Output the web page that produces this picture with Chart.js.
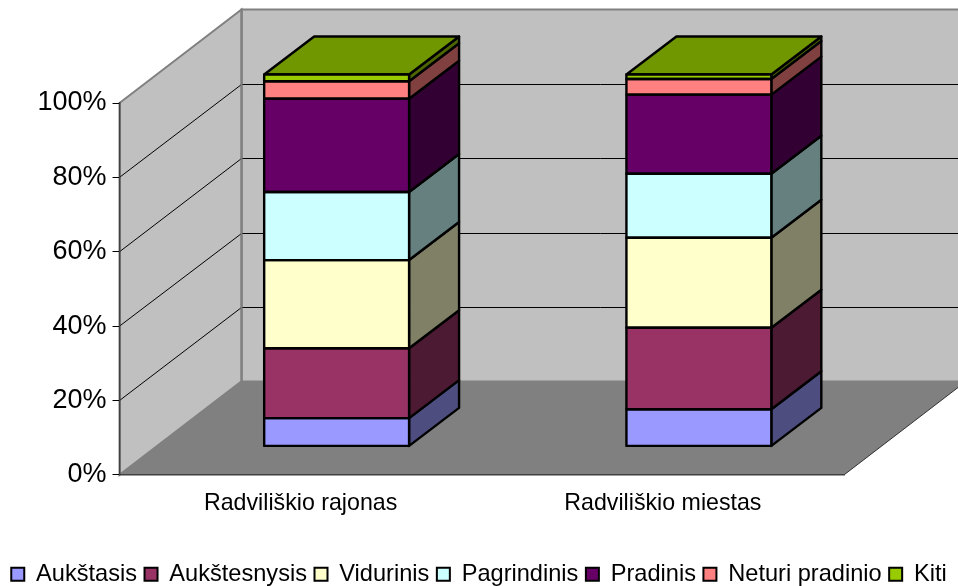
<!DOCTYPE html>
<html><head><meta charset="utf-8">
<script src="https://cdn.jsdelivr.net/npm/chart.js@4/dist/chart.umd.js"></script>
<style>html,body{margin:0;padding:0;background:#fff}canvas{display:block}</style>
</head><body><canvas id="c" width="958" height="586"></canvas>
<script>
const categories = ['Radviliškio rajonas', 'Radviliškio miestas'];
const seriesNames = ['Aukštasis', 'Aukštesnysis', 'Vidurinis', 'Pagrindinis', 'Pradinis', 'Neturi pradinio', 'Kiti'];
const aukstasis = [7.6, 10];
const aukstesnysis = [18.8, 21.9];
const vidurinis = [23.7, 24.2];
const pagrindinis = [18.3, 17.2];
const pradinis = [25.1, 21.3];
const neturi = [4.7, 4.2];
const kiti = [1.8, 1.2];
const seriesValues = [aukstasis, aukstesnysis, vidurinis, pagrindinis, pradinis, neturi, kiti];
const frontColors = ['#9999FF', '#993366', '#FFFFCC', '#CCFFFF', '#660066', '#FF8080', '#99CC00'];
const sideColors = ['#4D4D80', '#4D1A33', '#808066', '#668080', '#330033', '#804040', '#4D6600'];
const topColor = '#709600';
const yTicks = [0, 20, 40, 60, 80, 100];

const WALL_DX = 122, WALL_DY = -93.5;
const BAR_SHIFT_X = 36, BAR_SHIFT_Y = -28.5;
const BAR_DX = 50, BAR_DY = -38;
const EDGE = 2.4;

function poly(ctx, pts, fill, stroke, lw) {
  ctx.beginPath();
  pts.forEach((p, i) => i ? ctx.lineTo(p[0], p[1]) : ctx.moveTo(p[0], p[1]));
  ctx.closePath();
  if (fill) { ctx.fillStyle = fill; ctx.fill(); }
  if (stroke) { ctx.strokeStyle = stroke; ctx.lineWidth = lw; ctx.stroke(); }
}

const box3d = {
  id: 'box3d',
  beforeDraw(chart) {
    const {ctx, chartArea: a, scales: {y}} = chart;
    const W = chart.width + 40;
    ctx.save();
    poly(ctx, [[a.left + WALL_DX, a.top + WALL_DY], [a.right + WALL_DX, a.top + WALL_DY], [a.right + WALL_DX, a.bottom + WALL_DY], [a.left + WALL_DX, a.bottom + WALL_DY]], '#C0C0C0', '#808080', 2);
    poly(ctx, [[a.left, a.top], [a.left + WALL_DX, a.top + WALL_DY], [a.left + WALL_DX, a.bottom + WALL_DY], [a.left, a.bottom]], '#C0C0C0', '#808080', 2);
    poly(ctx, [[a.left, a.bottom], [a.right, a.bottom], [a.right + WALL_DX, a.bottom + WALL_DY], [a.left + WALL_DX, a.bottom + WALL_DY]], '#808080', null);
    ctx.beginPath(); ctx.moveTo(a.right, a.bottom); ctx.lineTo(a.right + WALL_DX, a.bottom + WALL_DY);
    ctx.strokeStyle = '#333'; ctx.lineWidth = 1; ctx.stroke();
    ctx.strokeStyle = '#000'; ctx.lineWidth = 1;
    yTicks.slice(1, -1).forEach(v => {
      const py = y.getPixelForValue(v);
      const by = Math.round(py + WALL_DY) + 0.5;
      ctx.beginPath(); ctx.moveTo(a.left, py); ctx.lineTo(a.left + WALL_DX, by); ctx.lineTo(W, by); ctx.stroke();
    });
    ctx.strokeStyle = '#808080'; ctx.lineWidth = 2;
    ctx.beginPath(); ctx.moveTo(a.left + WALL_DX, a.top + WALL_DY); ctx.lineTo(a.left + WALL_DX, a.bottom + WALL_DY); ctx.stroke();
    ctx.restore();
  },
  beforeDatasetsDraw(chart) {
    const {ctx} = chart;
    ctx.save();
    ctx.translate(BAR_SHIFT_X, BAR_SHIFT_Y);
    ctx.lineJoin = 'round';
    chart.data.datasets.forEach((ds, i) => {
      chart.getDatasetMeta(i).data.forEach(el => {
        const r = el.getProps(['x', 'y', 'base', 'width'], true);
        const xr = r.x + r.width / 2, xl = r.x - r.width / 2;
        poly(ctx, [[xr, r.y], [xr + BAR_DX, r.y + BAR_DY], [xr + BAR_DX, r.base + BAR_DY], [xr, r.base]], sideColors[i], '#000', EDGE);
        if (i === chart.data.datasets.length - 1) {
          poly(ctx, [[xl, r.y], [xl + BAR_DX, r.y + BAR_DY], [xr + BAR_DX, r.y + BAR_DY], [xr, r.y]], topColor, '#000', EDGE);
        }
      });
    });
  },
  afterDatasetsDraw(chart) {
    const {ctx} = chart;
    chart.data.datasets.forEach((ds, i) => {
      chart.getDatasetMeta(i).data.forEach(el => {
        const r = el.getProps(['x', 'y', 'base', 'width'], true);
        ctx.strokeStyle = '#000'; ctx.lineWidth = EDGE;
        ctx.strokeRect(r.x - r.width / 2, r.y, r.width, r.base - r.y);
      });
    });
    ctx.restore();
  }
};

Chart.defaults.font.family = '"Liberation Sans", Arial, sans-serif';
Chart.defaults.color = '#000';

new Chart(document.getElementById('c'), {
  type: 'bar',
  data: {
    labels: categories,
    datasets: seriesNames.map((name, i) => ({
      label: name,
      data: seriesValues[i],
      backgroundColor: frontColors[i],
      borderWidth: 0,
      inflateAmount: 0,
      clip: false,
      categoryPercentage: 1,
      barPercentage: 0.4
    }))
  },
  options: {
    responsive: false,
    animation: false,
    layout: {padding: {top: 103, left: 0, right: 0, bottom: -10}},
    plugins: {
      tooltip: {enabled: false},
      title: {display: false},
      legend: {
        position: 'bottom',
        labels: {
          font: {size: 23.6},
          boxWidth: 13,
          boxHeight: 13,
          padding: 7.5,
          color: '#000',
          generateLabels: chart => chart.data.datasets.map((d, i) => ({
            text: d.label, fillStyle: frontColors[i], strokeStyle: '#000', lineWidth: 2, datasetIndex: i, hidden: false
          }))
        }
      }
    },
    scales: {
      x: {
        stacked: true,
        grid: {display: false, drawTicks: false},
        border: {color: '#404040', width: 1.5},
        ticks: {font: {size: 23.2}, padding: 15, maxRotation: 0, color: '#000'},
        afterFit(s) { s.height = 80; }
      },
      y: {
        stacked: true,
        min: 0, max: 100,
        grid: {drawOnChartArea: false, drawTicks: true, tickLength: 7, color: '#000'},
        border: {color: '#404040', width: 1.5},
        ticks: {stepSize: 20, font: {size: 27}, padding: 6, color: '#000', callback: v => v + '%'},
        afterFit(s) { s.width = 119.5; }
      },
      pad: {
        position: 'right',
        display: true,
        grid: {display: false, drawTicks: false},
        border: {display: false},
        ticks: {display: false},
        afterFit(s) { s.width = 114; }
      }
    }
  },
  plugins: [box3d]
});
</script></body></html>
